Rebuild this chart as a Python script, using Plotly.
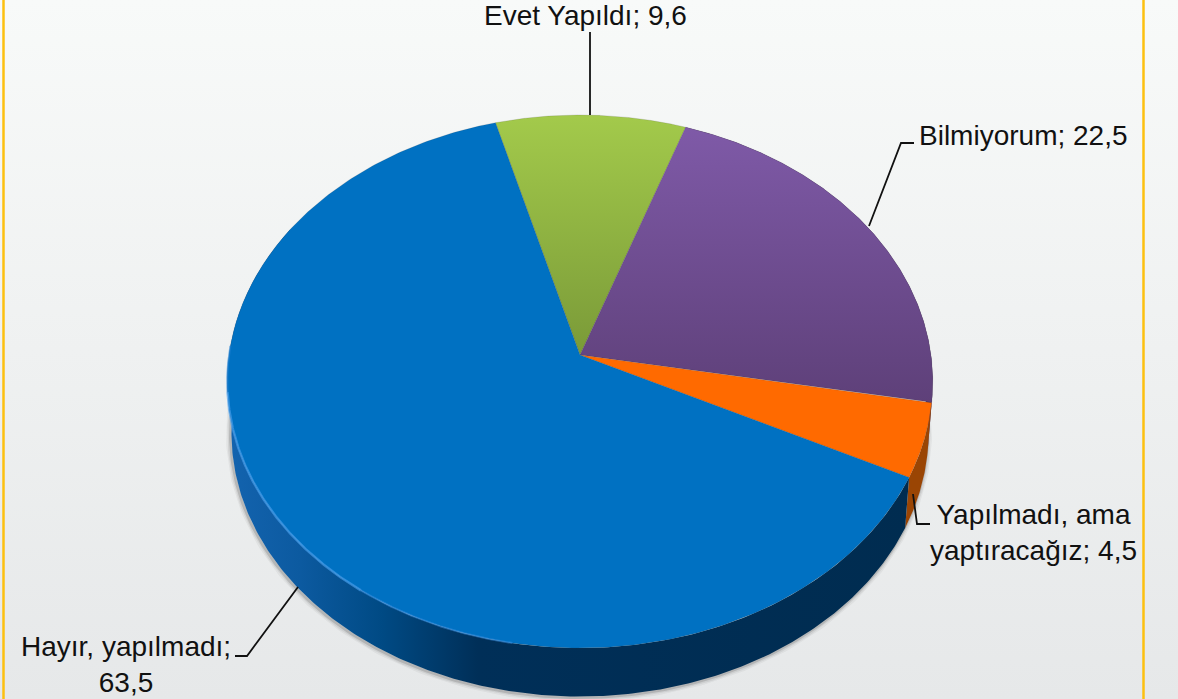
import numpy as np
import plotly.graph_objects as go

# ---- data ----
categories = ["Evet Yapıldı", "Bilmiyorum", "Yapılmadı, ama yaptıracağız", "Hayır, yapılmadı"]
values = [9.6, 22.5, 4.5, 63.5]
labels = ["Evet Yapıldı; 9,6", "Bilmiyorum; 22,5", "Yapılmadı, ama<br>yaptıracağız; 4,5", "Hayır, yapılmadı;<br>63,5"]

# ---- style ----
W, H = 1178, 699
CX, CY = 580, 355
START = -15.3
PERSP, AX, AY = 0.0994, 351, 263.9
WALL_S, WALL_D = 0.988, 52
top_gradients = [
    [[0, "#a3ca4b"], [1, "#7a9a38"]],
    [[0, "#7f5aa8"], [1, "#5e4079"]],
    [[0, "#ff6a00"], [1, "#ff6a00"]],
    [[0, "#0071c2"], [1, "#0071c2"]],
]
grad_span = [(115, 355), (125, 402), (355, 480), (115, 650)]
wall_colors = ["#6f8f30", "#4a2f63", "#9a4504", None]
blue_wall = [[0, "#1363ae"], [0.1, "#0c5aa0"], [0.22, "#004a84"], [0.36, "#002f58"], [1, "#002c50"]]
leaders = [
    ([590, 590], [32, 115]),
    ([869, 901, 914], [226, 143, 143]),
    ([913, 917, 930], [494, 524, 524]),
    ([298, 247, 235], [587, 656, 656]),
]
text_pos = [(585, 15), (1023, 135), (1033, 532), (126, 664)]


def project(theta_deg, r=1.0):
    t = np.radians(theta_deg)
    u, v = r * np.sin(t), r * np.cos(t)
    d = 1 + PERSP * v
    return CX + AX * u / d, CY - AY * v / d


def bottom_rim(theta_deg):
    x, y = project(theta_deg)
    return CX + WALL_S * (x - CX), CY + WALL_S * (y - CY) + WALL_D


angles = np.cumsum([0] + values) / sum(values) * 360 + START

fig = go.Figure()

# background gradient and frame lines
fig.add_trace(go.Scatter(
    x=[0, W, W, 0, 0], y=[0, 0, H, H, 0], mode="lines", line=dict(width=0), fill="toself",
    fillgradient=dict(type="vertical", colorscale=[[0, "#f8faf9"], [1, "#e6e8e9"]], start=0, stop=H),
    hoverinfo="skip"))
for fx in (3.5, 1143.5):
    fig.add_trace(go.Scatter(x=[fx, fx], y=[0, H], mode="lines",
                             line=dict(color="#fdc010", width=2.5), hoverinfo="skip"))

# soft shadow under the side wall
th_shadow = np.linspace(90, 285, 300)
sx, sy = bottom_rim(th_shadow)
for w, a, off in [(9, 0.05, 1), (6, 0.08, 1), (3, 0.16, 1)]:
    fig.add_trace(go.Scatter(x=sx - 1, y=sy + off, mode="lines",
                             line=dict(color=f"rgba(40,40,40,{a})", width=w), hoverinfo="skip"))

# side walls
for i in [1, 2, 3]:
    a0, a1 = angles[i], angles[i + 1]
    th = np.linspace(a0, min(a1, 300), 300)
    xt, yt = project(th)
    xb, yb = bottom_rim(th)
    px = np.concatenate([xt, xb[::-1], xt[:1]])
    py = np.concatenate([yt, yb[::-1], yt[:1]])
    kw = dict(fillcolor=wall_colors[i]) if wall_colors[i] else dict(
        fillgradient=dict(type="horizontal", colorscale=blue_wall, start=232, stop=915))
    fig.add_trace(go.Scatter(x=px, y=py, mode="lines", line=dict(width=0), fill="toself",
                             hoverinfo="skip", **kw))

# top faces
for i in range(len(values)):
    th = np.linspace(angles[i], angles[i + 1], 300)
    xs, ys = project(th)
    px = np.concatenate([[CX], xs, [CX]])
    py = np.concatenate([[CY], ys, [CY]])
    fig.add_trace(go.Scatter(
        x=px, y=py, mode="lines", line=dict(width=0.6, color="rgba(60,60,60,0.25)"), fill="toself",
        fillgradient=dict(type="vertical", colorscale=top_gradients[i],
                          start=grad_span[i][0], stop=grad_span[i][1]),
        name=categories[i], hoverinfo="name"))

# highlight along the front-left edge of the big slice
for lo, hi, col, w in [(190, 215, "rgba(60,150,235,0.5)", 2), (215, 262, "rgba(70,160,240,0.65)", 2.5),
                       (262, 272, "rgba(30,130,215,0.6)", 2)]:
    hx, hy = project(np.linspace(lo, hi, 150))
    fig.add_trace(go.Scatter(x=hx, y=hy, mode="lines", line=dict(color=col, width=w), hoverinfo="skip"))

# leader lines
for lx, ly in leaders:
    fig.add_trace(go.Scatter(x=lx, y=ly, mode="lines", line=dict(color="#111111", width=1.8), hoverinfo="skip"))

for (tx, ty), t in zip(text_pos, labels):
    fig.add_annotation(x=tx, y=ty, xref="x", yref="y", text=t, showarrow=False, align="center",
                       font=dict(family="Liberation Sans", size=28, color="#111111"))

fig.update_layout(
    width=W, height=H, margin=dict(l=0, r=0, t=0, b=0), showlegend=False,
    paper_bgcolor="#f0f2f2", plot_bgcolor="rgba(0,0,0,0)",
    xaxis=dict(visible=False, range=[0, W], fixedrange=True),
    yaxis=dict(visible=False, range=[H, 0], fixedrange=True),
)
fig.write_html("out.html", config={"displayModeBar": False},
               post_script="document.body.style.margin='0';document.body.style.overflow='hidden';")
